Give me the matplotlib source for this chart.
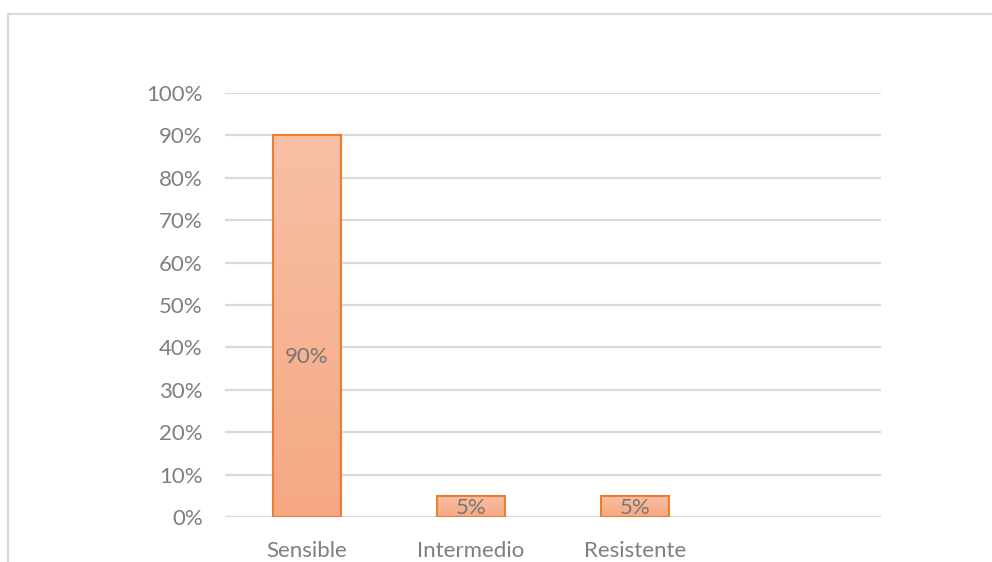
#!/usr/bin/env python3
import numpy as np
from matplotlib import pyplot as plt
from matplotlib.colors import LinearSegmentedColormap
from matplotlib.patches import Rectangle

categories = ['Sensible', 'Intermedio', 'Resistente']
values = [90, 5, 5]
value_labels = ['90%', '5%', '5%']
y_ticks = [0, 10, 20, 30, 40, 50, 60, 70, 80, 90, 100]
y_tick_labels = ['%d%%' % t for t in y_ticks]
n_slots = 4  # the category axis keeps one empty slot at the right

plt.rcParams['font.family'] = ['Lato', 'DejaVu Sans']

def plotBars():
	fig = plt.figure(figsize=(9.92, 5.62), dpi=100)
	ax = fig.add_axes([225 / 992, 1 - 517 / 562, 656 / 992, 424 / 562])

	# outer chart frame, runs off the right and bottom edges
	frame = Rectangle((8 / 992, -0.1), 1.2, 1 - 14 / 562 + 0.1, transform=fig.transFigure,
		fill=False, edgecolor='#d9d9d9', linewidth=1.6, clip_on=False)
	fig.patches.append(frame)

	x = np.arange(len(categories))
	bars = ax.bar(x, values, width=0.41, color='none', edgecolor='#ed7d31', linewidth=1.5, zorder=3)

	cmap = LinearSegmentedColormap.from_list('fill', ['#f5a882', '#f8c0a6'])
	grad = np.linspace(0, 1, 256).reshape(-1, 1)
	for bar in bars:
		x0 = bar.get_x()
		im = ax.imshow(grad, cmap=cmap, origin='lower', aspect='auto', zorder=2,
			extent=(x0, x0 + bar.get_width(), 0, bar.get_height()))
		im.set_clip_path(bar)

	for xi, v, lab in zip(x, values, value_labels):
		ax.text(xi, v * 0.42, lab, ha='center', va='center', fontsize=16, color='#777777', zorder=4)

	ax.set_xlim(-0.5, n_slots - 0.5)
	ax.set_ylim(0, 100)
	ax.set_yticks(y_ticks)
	ax.set_yticklabels(y_tick_labels)
	ax.set_xticks(x)
	ax.set_xticklabels(categories)
	ax.tick_params(axis='both', length=0, labelsize=16, labelcolor='#7f7f7f')
	ax.tick_params(axis='y', pad=16)
	ax.tick_params(axis='x', pad=17)
	ax.yaxis.grid(True, color='#d9d9d9', linewidth=1.6, zorder=0)
	ax.set_axisbelow(True)
	for s in ax.spines.values():
		s.set_visible(False)

	fig.savefig('out.png', dpi=100)

def main():
	plotBars()

if __name__ == '__main__':
	main()
